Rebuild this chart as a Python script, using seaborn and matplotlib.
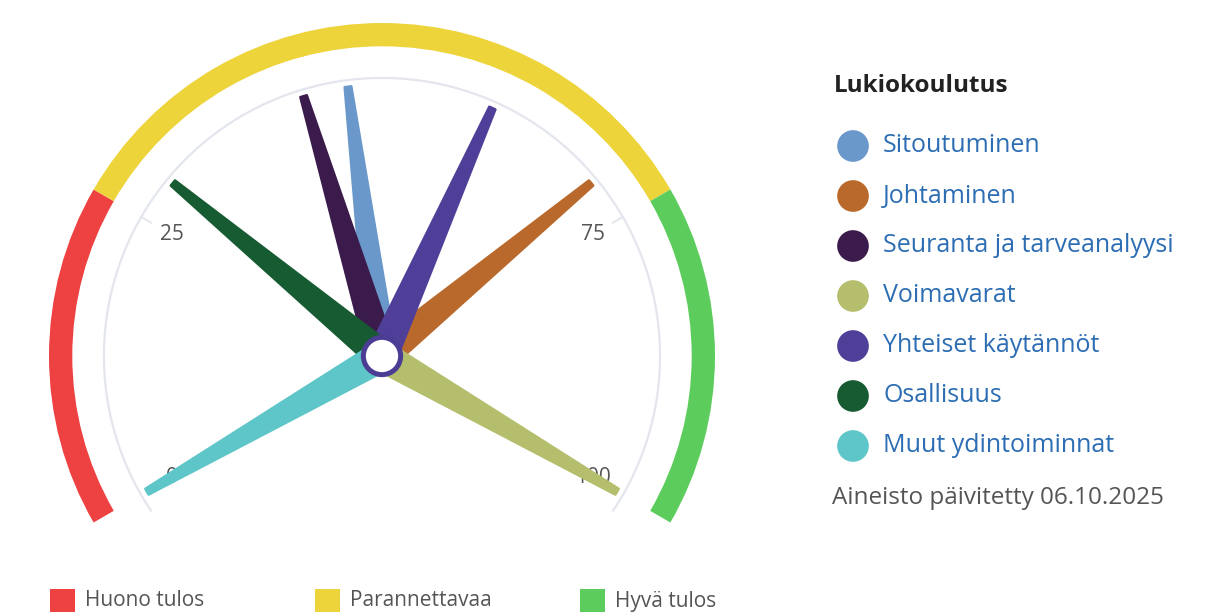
import numpy as np
import matplotlib
matplotlib.use("Agg")
import matplotlib.pyplot as plt
from matplotlib.patches import Wedge, Polygon, Circle, Rectangle
import seaborn as sns

# ---- data -------------------------------------------------------------
title = "Lukiokoulutus"
areas = ["Sitoutuminen", "Johtaminen", "Seuranta ja tarveanalyysi", "Voimavarat",
         "Yhteiset käytännöt", "Osallisuus", "Muut ydintoiminnat"]
scores = [47, 71, 43, 100, 60, 29, 0]
area_colors = ["#6a98cb", "#b9692b", "#3b1b4b", "#b5be6c",
               "#4f3f99", "#175b33", "#5ec6c8"]

bands = ["Huono tulos", "Parannettavaa", "Hyvä tulos"]
band_limits = [(0, 25), (25, 75), (75, 100)]
band_colors = ["#ee4242", "#edd43b", "#5ccd5c"]

tick_values = [0, 25, 75, 100]
tick_marks = [25, 75]
updated = "Aineisto päivitetty 06.10.2025"

# ---- style ------------------------------------------------------------
sns.set_theme(style="white")
plt.rcParams["font.family"] = ["Open Sans", "DejaVu Sans"]

W, H = 1209, 616
fig = plt.figure(figsize=(W / 100, H / 100), dpi=100)
fig.patch.set_facecolor("white")


def frac(x0, y0, w, h):
    """Pixel box (from top-left) to figure fractions."""
    return [x0 / W, 1 - (y0 + h) / H, w / W, h / H]


# gauge axes: one data unit = R pixels, centre of dial at (cx, cy)
R, cx, cy = 333, 382, 356
xl, yl = (-1.1, 1.1), (-0.62, 1.06)
ax = fig.add_axes(frac(cx + xl[0] * R, cy - yl[1] * R,
                       (xl[1] - xl[0]) * R, (yl[1] - yl[0]) * R))
ax.set_xlim(*xl)
ax.set_ylim(*yl)
ax.set_aspect("equal")
ax.axis("off")

SPAN = 240.0  # degrees covered by the 0..100 scale


def gauge_angle(v):
    """Clockwise angle from vertical (degrees) for a score."""
    return -SPAN / 2 + SPAN * v / 100.0


def mpl_angle(v):
    return 90.0 - gauge_angle(v)


# coloured outer band
for (lo, hi), col in zip(band_limits, band_colors):
    ax.add_patch(Wedge((0, 0), 1.0, mpl_angle(hi), mpl_angle(lo),
                       width=0.07, facecolor=col, edgecolor="none"))

# thin scale arc (runs a little past both ends of the scale)
r_scale = 0.835
th = np.linspace(np.radians(mpl_angle(100) - 4), np.radians(mpl_angle(0) + 4), 300)
ax.plot(r_scale * np.cos(th), r_scale * np.sin(th), color="#e4e6ee", lw=1.6,
        solid_capstyle="butt", zorder=1)
for v in tick_marks:
    a = np.radians(mpl_angle(v))
    ax.plot([r_scale * np.cos(a), (r_scale - 0.035) * np.cos(a)],
            [r_scale * np.sin(a), (r_scale - 0.035) * np.sin(a)],
            color="#e4e6ee", lw=1.4, zorder=1)
for v in tick_values:
    a = np.radians(mpl_angle(v))
    ax.text(0.73 * np.cos(a), 0.73 * np.sin(a), str(v), ha="center",
            va="center", fontsize=15, color="#555555", zorder=2)

# needles
L, w0, w1 = 0.815, 0.044, 0.010
for v, col in zip(scores, area_colors):
    a = np.radians(gauge_angle(v))
    u = np.array([np.sin(a), np.cos(a)])
    p = np.array([np.cos(a), -np.sin(a)])
    pts = [p * w0, u * L + p * w1, u * L - p * w1, -p * w0]
    ax.add_patch(Polygon(pts, closed=True, facecolor=col, edgecolor=col,
                         lw=1.8, joinstyle="round", zorder=3))

# hub
ax.add_patch(Circle((0, 0), 0.056, facecolor="white", edgecolor="#4b3c94",
                    lw=3.6, zorder=5))

# ---- right legend -----------------------------------------------------
lx0, ly0, lw_, lh_ = 820, 60, 385, 470
lax = fig.add_axes(frac(lx0, ly0, lw_, lh_))
row_y = [146 + 50 * i for i in range(len(areas))]
sns.scatterplot(x=[853] * len(areas), y=row_y, hue=areas, palette=area_colors,
                s=520, edgecolor="none", legend=False, ax=lax, zorder=3)
lax.set_xlim(lx0, lx0 + lw_)
lax.set_ylim(ly0 + lh_, ly0)
lax.axis("off")

lax.text(834, 86, title, fontsize=17.5, fontweight="bold", color="#222222",
         va="center", ha="left")
for name, yy in zip(areas, row_y):
    lax.text(883, yy, name, fontsize=18, color="#2c6db3", va="center",
             ha="left")
lax.text(832, 498, updated, fontsize=17.5, color="#555555", va="center",
         ha="left")

# ---- bottom legend ----------------------------------------------------
bx0, by0 = 0, 575
bax = fig.add_axes(frac(bx0, by0, W, H - by0))
bax.set_xlim(0, W)
bax.set_ylim(H, by0)
bax.axis("off")
for i, (name, col) in enumerate(zip(bands, band_colors)):
    x = 50 + 265 * i
    bax.add_patch(Rectangle((x, 589), 25, 23, facecolor=col, edgecolor="none"))
    bax.text(x + 35, 601, name, fontsize=15, color="#555555", va="center",
             ha="left")

fig.savefig("out.png", dpi=100, facecolor="white")
